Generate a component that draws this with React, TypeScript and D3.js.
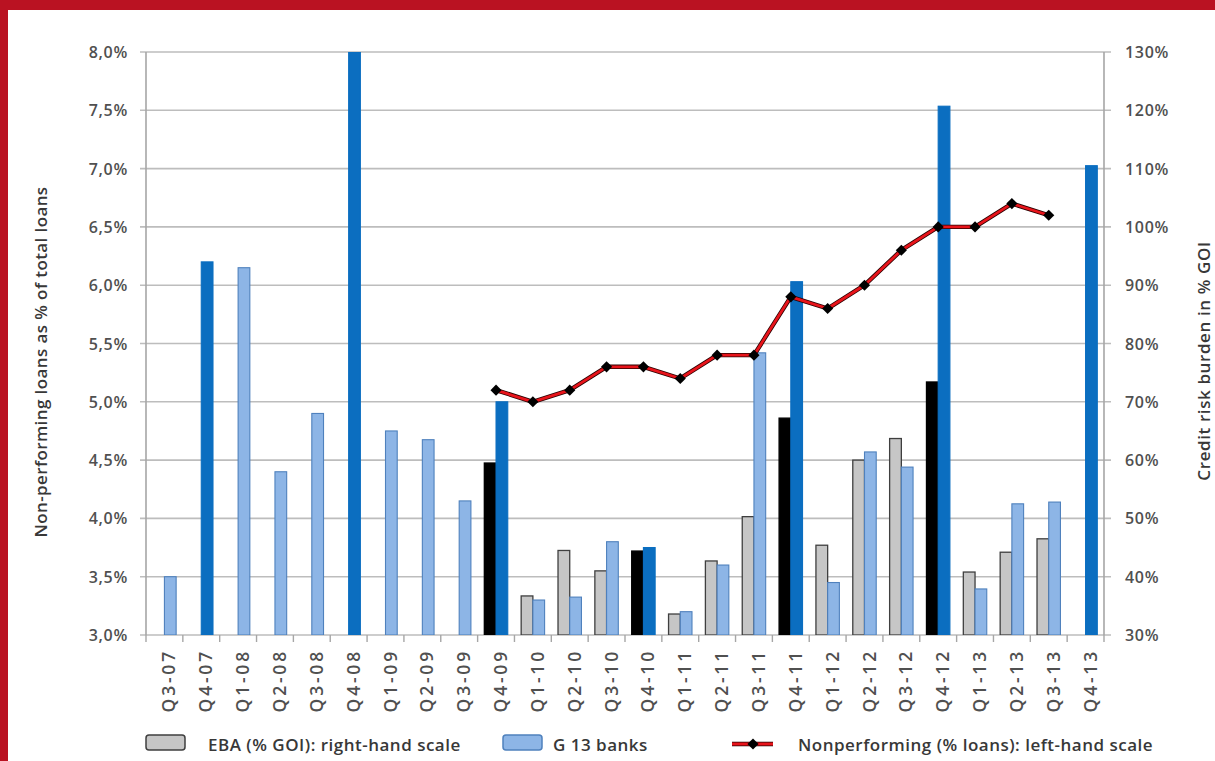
import React from "react";
import * as d3 from "d3";

const categories = [
  "Q3-07", "Q4-07",
  "Q1-08", "Q2-08", "Q3-08", "Q4-08",
  "Q1-09", "Q2-09", "Q3-09", "Q4-09",
  "Q1-10", "Q2-10", "Q3-10", "Q4-10",
  "Q1-11", "Q2-11", "Q3-11", "Q4-11",
  "Q1-12", "Q2-12", "Q3-12", "Q4-12",
  "Q1-13", "Q2-13", "Q3-13", "Q4-13",
];

// EBA (% GOI), right-hand scale
const ebaValues: (number | null)[] = [
  null, null,
  null, null, null, null,
  null, null, null, 59.5,
  36.7, 44.5, 41, 44.4,
  33.6, 42.7, 50.3, 67.2,
  45.4, 60, 63.7, 73.4,
  40.8, 44.2, 46.5, null,
];

// G 13 banks, right-hand scale
const g13Values: (number | null)[] = [
  40, 94,
  93, 58, 68, 130,
  65, 63.5, 53, 70,
  36, 36.5, 46, 45,
  34, 42, 78.4, 90.6,
  39, 61.4, 58.8, 120.7,
  37.9, 52.5, 52.8, 110.5,
];

// Nonperforming (% loans), left-hand scale
const nplValues: (number | null)[] = [
  null, null,
  null, null, null, null,
  null, null, null, 5.1,
  5.0, 5.1, 5.3, 5.3,
  5.2, 5.4, 5.4, 5.9,
  5.8, 6.0, 6.3, 6.5,
  6.5, 6.7, 6.6, null,
];

const leftTicks = [3.0, 3.5, 4.0, 4.5, 5.0, 5.5, 6.0, 6.5, 7.0, 7.5, 8.0];
const rightTicks = [30, 40, 50, 60, 70, 80, 90, 100, 110, 120, 130];

const W = 1215;
const H = 761;
const M = { left: 146, right: 1104, top: 52, bottom: 635 };

const FONT = "'Open Sans', 'Noto Sans', sans-serif";
const TICK_COLOR = "#505050";
const TEXT_COLOR = "#383838";
const RED = "#BA1222";
const LIGHT_BLUE = "#8DB5E6";
const LIGHT_BLUE_STROKE = "#4F81BD";
const DARK_BLUE = "#0B6EC0";
const GRAY = "#C6C6C6";
const GRAY_STROKE = "#3f3f3f";

export default function App() {
  const x = d3.scaleBand<string>().domain(categories).range([M.left, M.right]).padding(0);
  const bw = x.bandwidth();
  const barW = bw * 0.318;
  const yL = d3.scaleLinear().domain([3, 8]).range([M.bottom, M.top]);
  const yR = d3.scaleLinear().domain([30, 130]).range([M.bottom, M.top]);
  const cx = (c: string) => (x(c) as number) + bw / 2;
  const isQ4 = (c: string) => c.startsWith("Q4");
  const fmtL = (v: number) => d3.format(".1f")(v).replace(".", ",") + "%";
  const fmtR = (v: number) => d3.format("d")(v) + "%";

  const lineData = categories
    .map((c, i) => ({ c, v: nplValues[i] }))
    .filter((d) => d.v !== null) as { c: string; v: number }[];
  const linePath = d3
    .line<{ c: string; v: number }>()
    .x((d) => cx(d.c))
    .y((d) => yL(d.v))(lineData) as string;
  const diamond = d3.symbol().type(d3.symbolSquare).size(62)() as string;

  const boundaries = categories.map((c) => x(c) as number).concat([M.right]);

  return (
    <svg
      width={W}
      height={H}
      style={{ position: "absolute", left: 0, top: 0, display: "block", background: "#fff" }}
      fontFamily={FONT}
    >
      {/* frame */}
      <rect x={0} y={0} width={W} height={10} fill={RED} />
      <rect x={0} y={0} width={8} height={H} fill={RED} />

      {/* gridlines */}
      {leftTicks.map((t) => (
        <line key={"g" + t} x1={M.left - 6} x2={M.right + 7} y1={yL(t)} y2={yL(t)} stroke="#BDBDBD" strokeWidth={1.6} />
      ))}
      {/* axes */}
      <line x1={M.left} x2={M.left} y1={M.top} y2={M.bottom} stroke="#A6A6A6" strokeWidth={1.6} />
      <line x1={M.right} x2={M.right} y1={M.top} y2={M.bottom} stroke="#A6A6A6" strokeWidth={1.6} />
      {boundaries.map((b, i) => (
        <line key={"t" + i} x1={b} x2={b} y1={M.bottom} y2={M.bottom + 7} stroke="#A6A6A6" strokeWidth={1.4} />
      ))}

      {/* left tick labels */}
      {leftTicks.map((t) => (
        <text key={"l" + t} x={M.left - 18} y={yL(t)} textAnchor="end" dominantBaseline="central" fontSize={16} fontWeight={600} fill={TICK_COLOR} letterSpacing={0.7}>
          {fmtL(t)}
        </text>
      ))}
      {/* right tick labels */}
      {rightTicks.map((t) => (
        <text key={"r" + t} x={M.right + 21} y={yR(t)} dominantBaseline="central" fontSize={16} fontWeight={600} fill={TICK_COLOR} letterSpacing={0.7}>
          {fmtR(t)}
        </text>
      ))}

      {/* category labels */}
      {categories.map((c) => (
        <text
          key={"c" + c}
          transform={`translate(${cx(c) + 4},${M.bottom + 14}) rotate(-90)`}
          textAnchor="end"
          dominantBaseline="central"
          fontSize={17.5}
          fontWeight={600}
          fill={TICK_COLOR}
          letterSpacing={2.8}
        >
          {c}
        </text>
      ))}

      {/* bars */}
      <defs>
        <clipPath id="plotclip">
          <rect x={M.left} y={M.top} width={M.right - M.left} height={M.bottom - M.top} />
        </clipPath>
      </defs>
      <g clipPath="url(#plotclip)">
        {categories.map((c, i) => {
          const e = ebaValues[i];
          if (e === null) return null;
          const dark = isQ4(c);
          return (
            <rect
              key={"e" + c}
              x={cx(c) - barW}
              y={yR(e)}
              width={barW}
              height={yR(30) - yR(e)}
              fill={dark ? "#000000" : GRAY}
              stroke={dark ? "#000000" : GRAY_STROKE}
              strokeWidth={1.3}
            />
          );
        })}
        {categories.map((c, i) => {
          const g = g13Values[i];
          if (g === null) return null;
          const dark = isQ4(c);
          return (
            <rect
              key={"b" + c}
              x={cx(c)}
              y={yR(g)}
              width={barW}
              height={yR(30) - yR(g)}
              fill={dark ? DARK_BLUE : LIGHT_BLUE}
              stroke={dark ? DARK_BLUE : LIGHT_BLUE_STROKE}
              strokeWidth={1.1}
            />
          );
        })}
      </g>

      {/* line */}
      <path d={linePath} fill="none" stroke="#2a0000" strokeWidth={4.4} strokeLinejoin="round" />
      <path d={linePath} fill="none" stroke="#E8141B" strokeWidth={2.8} strokeLinejoin="round" />
      {lineData.map((d) => (
        <path key={"m" + d.c} d={diamond} transform={`translate(${cx(d.c)},${yL(d.v)}) rotate(45)`} fill="#000" />
      ))}

      {/* axis titles */}
      <text transform={`translate(40,362) rotate(-90)`} textAnchor="middle" dominantBaseline="central" fontSize={17} fontWeight={600} fill={TEXT_COLOR} letterSpacing={0.4}>
        Non-performing loans as % of total loans
      </text>
      <text transform={`translate(1203,361) rotate(-90)`} textAnchor="middle" dominantBaseline="central" fontSize={17} fontWeight={600} fill={TEXT_COLOR} letterSpacing={0.6}>
        Credit risk burden in % GOI
      </text>

      {/* legend */}
      <g>
        <rect x={146} y={735} width={39} height={15} rx={3} fill={GRAY} stroke={GRAY_STROKE} strokeWidth={1.5} />
        <text x={208} y={744} dominantBaseline="central" fontSize={17} fontWeight={600} fill={TEXT_COLOR} letterSpacing={0.5}>
          EBA (% GOI): right-hand scale
        </text>
        <rect x={503} y={735} width={39} height={15} rx={3} fill={LIGHT_BLUE} stroke={LIGHT_BLUE_STROKE} strokeWidth={1.5} />
        <text x={553} y={744} dominantBaseline="central" fontSize={17} fontWeight={600} fill={TEXT_COLOR} letterSpacing={0.5}>
          G 13 banks
        </text>
        <line x1={732} x2={773} y1={744} y2={744} stroke="#2a0000" strokeWidth={4.4} />
        <line x1={732} x2={773} y1={744} y2={744} stroke="#E8141B" strokeWidth={2.8} />
        <path d={diamond} transform="translate(753,744) rotate(45)" fill="#000" />
        <text x={798} y={744} dominantBaseline="central" fontSize={17} fontWeight={600} fill={TEXT_COLOR} letterSpacing={0.5}>
          Nonperforming (% loans): left-hand scale
        </text>
      </g>
    </svg>
  );
}
